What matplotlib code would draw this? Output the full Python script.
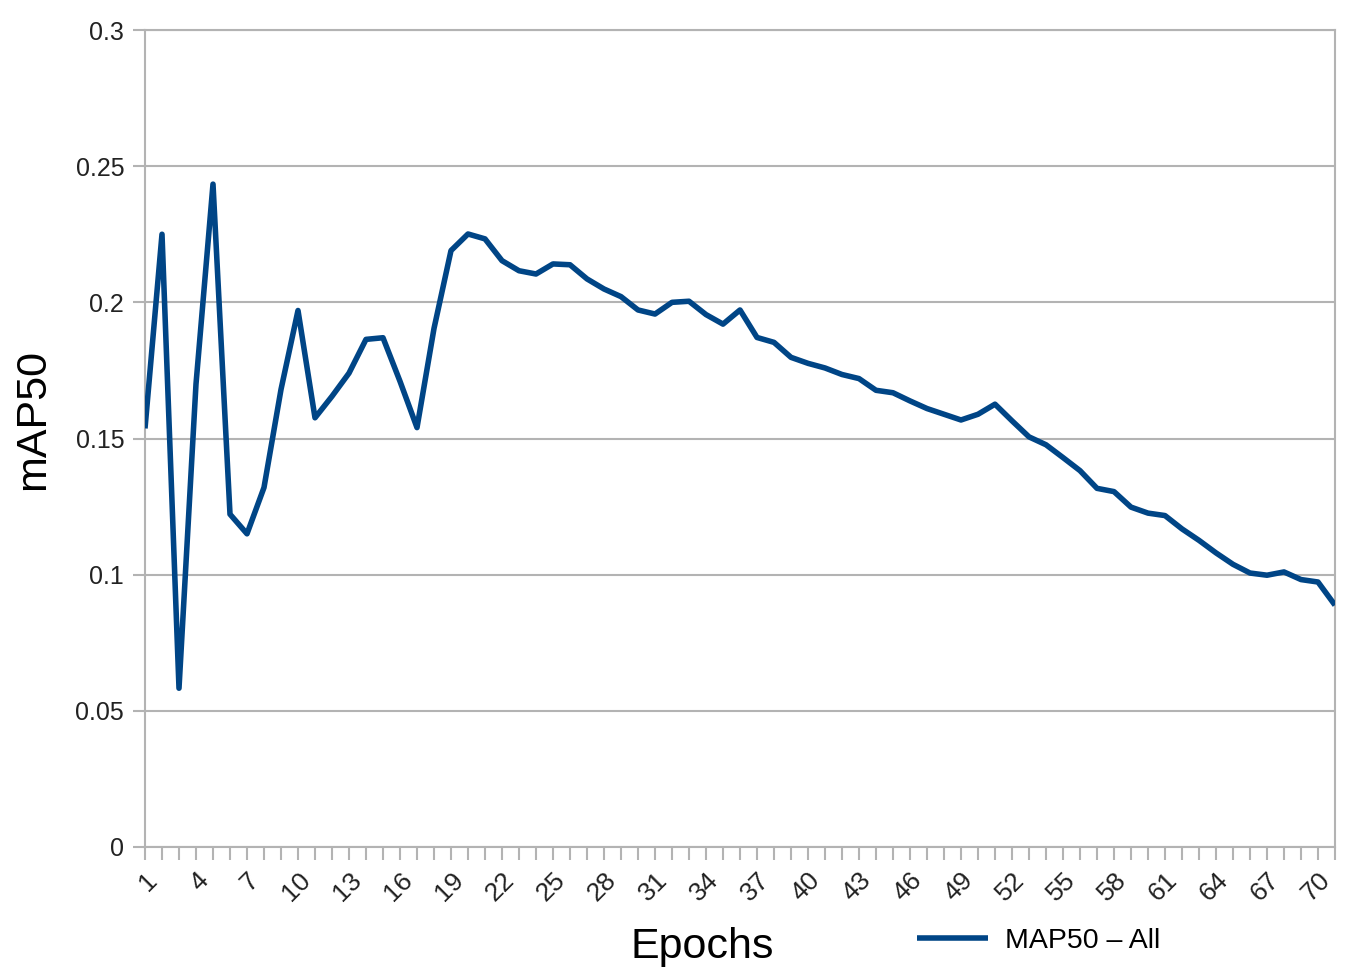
import matplotlib
matplotlib.use("Agg")
import matplotlib.pyplot as plt

plt.rcParams['font.family'] = ['Liberation Sans', 'DejaVu Sans']

epochs = list(range(1, 72))
map50_all = [
    0.1537, 0.225, 0.0583, 0.170, 0.2434, 0.1222, 0.115, 0.132, 0.168, 0.197,
    0.1576, 0.1655, 0.174, 0.1864, 0.187, 0.171, 0.154, 0.1904, 0.219, 0.2251,
    0.2233, 0.2153, 0.2116, 0.2104, 0.2141, 0.2138, 0.2086, 0.2049, 0.2021, 0.1972,
    0.1957, 0.2000, 0.2004, 0.1955, 0.1920, 0.1972, 0.1871, 0.1853, 0.1798, 0.1776,
    0.1759, 0.1735, 0.1720, 0.1677, 0.1668, 0.1638, 0.1610, 0.1589, 0.1568, 0.1589,
    0.1626, 0.1565, 0.1506, 0.1477, 0.1430, 0.1382, 0.1317, 0.1305, 0.1248, 0.1226,
    0.1217, 0.1168, 0.1126, 0.1080, 0.1038, 0.1006, 0.0998, 0.1010, 0.0982, 0.0973,
    0.0888,
]
y_ticks = [0, 0.05, 0.1, 0.15, 0.2, 0.25, 0.3]
y_tick_labels = ["0", "0.05", "0.1", "0.15", "0.2", "0.25", "0.3"]
x_tick_labels = [str(e) if (e - 1) % 3 == 0 else "" for e in epochs]

grid_col = "#b3b3b3"
line_col = "#004586"

fig = plt.figure(figsize=(13.58, 9.76), dpi=100)
ax = fig.add_axes([145 / 1358, 1 - 847 / 976, 1190 / 1358, 817 / 976])

ax.plot(epochs, map50_all, color=line_col, linewidth=4, label="MAP50 \u2013 All",
        solid_joinstyle="round", solid_capstyle="butt", zorder=3)

ax.set_xlim(1, 71)
ax.set_ylim(0, 0.3)
ax.set_yticks(y_ticks)
ax.set_yticklabels(y_tick_labels)
ax.set_xticks(epochs)
ax.set_xticklabels(x_tick_labels, rotation=45, ha="right", va="top",
                   rotation_mode="anchor")

ax.grid(axis="y", color=grid_col, linewidth=1.5, zorder=0)
for s in ax.spines.values():
    s.set_color(grid_col)
    s.set_linewidth(1.5)
ax.tick_params(axis="both", colors=grid_col, length=9, width=1.5,
               labelcolor="#222222", labelsize=18, pad=6)
ax.tick_params(axis="x", labelsize=19)

ax.set_ylabel("mAP50", fontsize=31, color="black", va="center")
ax.yaxis.set_label_coords((33 - 145) / 1190, (847 - 420) / 817)
ax.set_xlabel("Epochs", fontsize=31, color="black", va="center")
ax.xaxis.set_label_coords((702 - 145) / 1190, (847 - 947) / 817)

fig.legend(loc="center left", bbox_to_anchor=(917 / 1358, 1 - 941 / 976),
           frameon=False, fontsize=20.5, handlelength=2.5, handletextpad=0.6,
           borderpad=0, borderaxespad=0)

plt.savefig("out.png", dpi=100)
